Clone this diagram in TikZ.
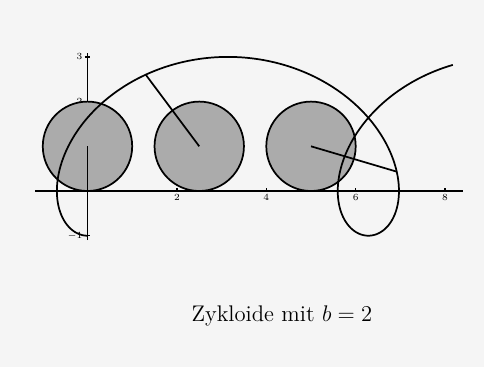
\documentclass[tikz,border=0pt]{standalone}
\usepackage{xcolor}
\usepackage{amsmath}
\usepackage{tikz}
\usetikzlibrary{positioning, calc}

\begin{document}
\begin{tikzpicture}[
  wheel/.style={draw, line width=1.1pt, fill=black!33},
  spoke/.style={line width=1.1pt},
  curve/.style={line width=1.1pt},
  axis/.style={line width=0.8pt},
  ticklabel/.style={font=\fontsize{6}{7}\selectfont, inner sep=1pt}
]
  % paper
  \fill[black!4] (-1.957,-3.937) rectangle (8.870,4.273);
  \useasboundingbox (-1.957,-3.937) rectangle (8.870,4.273);

  % axes
  \coordinate (xmin) at (-1.17,0);
  \coordinate (xmax) at (8.40,0);
  \coordinate (ymin) at (0,-1.10);
  \coordinate (ymax) at (0,3.09);
  \draw[axis] (xmin) -- (xmax);
  \draw[axis] (ymin) -- (ymax);
  \foreach \x in {2,4,6,8} {
    \draw[axis] (\x,0) -- (\x,0.07);
    \node[ticklabel, below=1pt] (lx\x) at (\x,0) {\x};
  }
  \foreach \y/\lab in {-1/$-$1, 2/2, 3/3} {
    \draw[axis] (-0.06,\y) -- (0.06,\y);
    \node[ticklabel, left=2pt] (ly\y) at (0,\y) {\lab};
  }

  % rolling circles with spokes
  \foreach \t/\n in {0/a, 2.5/b, 5/c} {
    \coordinate (m\n) at (\t,1);
    \coordinate (p\n) at ({\t-2*sin(\t r)},{1-2*cos(\t r)});
    \draw[wheel] (m\n) circle (1);
    \draw[spoke] (m\n) -- (p\n);
  }

  % cycloid
  \draw[curve] plot[domain=0:9, samples=220, smooth, variable=\t]
    ({\t-2*sin(\t r)},{1-2*cos(\t r)});

  \node[font=\Large, anchor=base] (caption) at (4.35,-2.93) {Zykloide mit $b = 2$};
\end{tikzpicture}
\end{document}
